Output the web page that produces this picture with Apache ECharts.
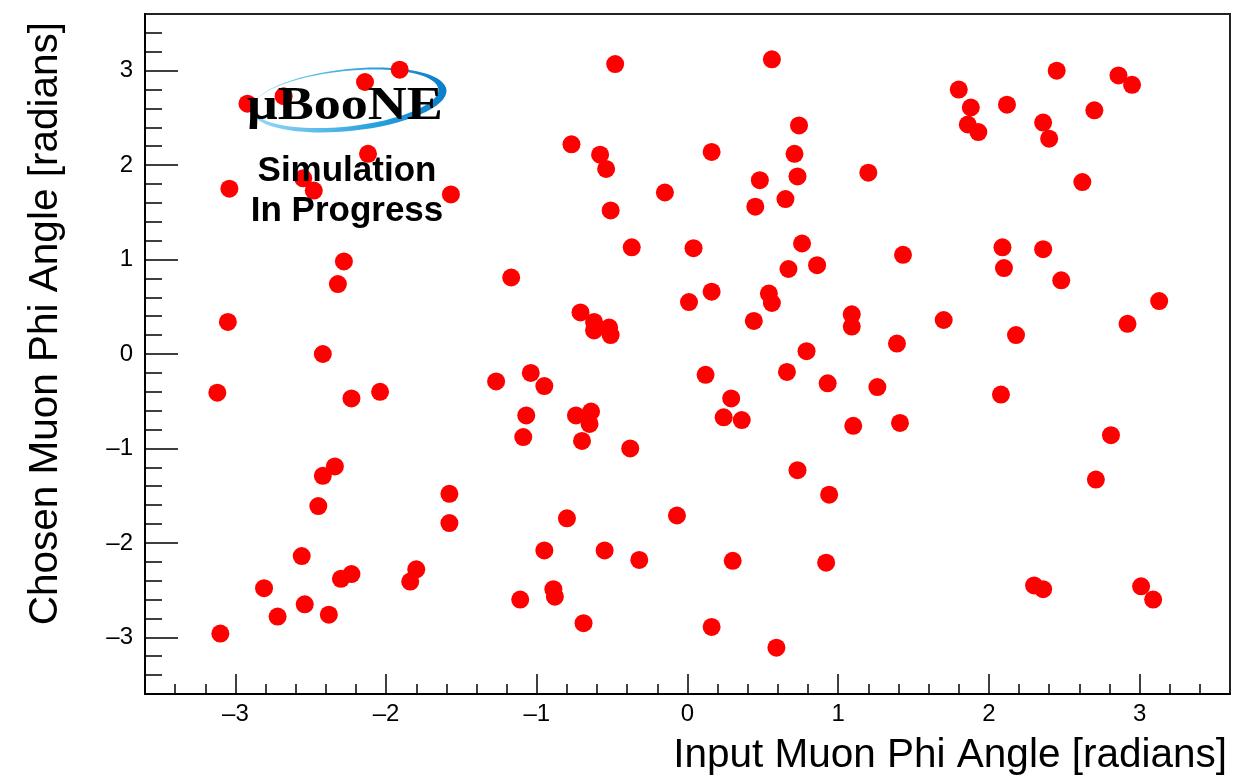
<!DOCTYPE html>
<html>
<head>
<meta charset="utf-8">
<title>Chosen vs Input Muon Phi</title>
<script src="https://cdn.jsdelivr.net/npm/echarts/dist/echarts.min.js"></script>
<style>
    html, body { margin: 0; padding: 0; background: #fff; }
    #main { width: 1257px; height: 778px; }
</style>
</head>
<body>
<div id="main"></div>
<script>
// input muon phi (x) and chosen muon phi (y), one entry per event
var inputPhi = [
    -2.92, -2.68, -2.14, -1.91, -2.12, -3.04, -2.55, -2.48, -1.57, -2.28, -2.32, -1.17, -3.05, -2.42,
    -0.48, 0.56, 1.80, 0.74, -0.77, -0.58, -0.54, 0.16, 0.71, 0.73, 0.48, 1.20, -0.15, 0.65, 0.45, -0.51,
    -0.37, 0.04, 0.76, 1.43, 0.67, 0.86, 0.16, 0.01, 0.54, 0.56, -0.71, -0.62, -0.62, -0.52, -0.51, 0.44,
    1.09, 1.09, 1.70, 1.39, 0.79,
    2.45, 2.86, 2.95, 1.88, 2.12, 1.86, 1.93, 2.36, 2.40, 2.70, 2.62, 2.09, 2.36, 2.10, 2.48, 2.18, 2.92, 3.13,
    -3.12, -2.23, -2.04, -1.27, -1.04, -0.95, -1.07, -1.09, -2.34, -2.42, -2.45, -1.58, -1.58, -0.95, -2.56,
    -2.30, -2.23, -2.81, -1.80, -1.84, -2.54, -2.72, -2.38, -1.11, -3.10, -0.89, -0.88, -0.80,
    0.12, 0.66, 0.93, 1.26, 0.29, 0.24, 0.36, 1.10, 1.41, -0.74, -0.64, -0.65, -0.70, -0.38, 0.73, 0.94, -0.07,
    -0.55, -0.32, 0.30, 0.92, -0.69, 0.16, 0.59,
    2.08, 2.81, 2.71, 2.30, 2.36, 3.01, 3.09
];
var chosenPhi = [
    2.65, 2.73, 2.88, 3.01, 2.12, 1.75, 1.86, 1.73, 1.69, 0.98, 0.74, 0.81, 0.34, 0.00,
    3.07, 3.12, 2.80, 2.42, 2.22, 2.11, 1.96, 2.14, 2.12, 1.88, 1.84, 1.92, 1.71, 1.64, 1.56, 1.52,
    1.13, 1.12, 1.17, 1.05, 0.90, 0.94, 0.66, 0.55, 0.64, 0.54, 0.44, 0.34, 0.25, 0.28, 0.20, 0.35,
    0.42, 0.29, 0.36, 0.11, 0.03,
    3.00, 2.95, 2.85, 2.61, 2.64, 2.43, 2.35, 2.45, 2.28, 2.58, 1.82, 1.13, 1.11, 0.91, 0.78, 0.20, 0.32, 0.56,
    -0.41, -0.47, -0.40, -0.29, -0.20, -0.34, -0.65, -0.88, -1.19, -1.29, -1.61, -1.48, -1.79, -2.08, -2.14,
    -2.38, -2.33, -2.48, -2.28, -2.41, -2.65, -2.78, -2.76, -2.60, -2.96, -2.49, -2.57, -1.74,
    -0.22, -0.19, -0.31, -0.35, -0.47, -0.67, -0.70, -0.76, -0.73, -0.65, -0.61, -0.74, -0.92, -1.00, -1.23, -1.49, -1.71,
    -2.08, -2.18, -2.19, -2.21, -2.85, -2.89, -3.11,
    -0.43, -0.86, -1.33, -2.45, -2.49, -2.46, -2.60
];

// axis ticks (ROOT style: long major, short minor)
var majorTicks = [-3, -2, -1, 0, 1, 2, 3];
var minorTicks = [-3.4, -3.2, -2.8, -2.6, -2.4, -2.2, -1.8, -1.6, -1.4, -1.2, -0.8, -0.6, -0.4, -0.2,
    0.2, 0.4, 0.6, 0.8, 1.2, 1.4, 1.6, 1.8, 2.2, 2.4, 2.6, 2.8, 3.2, 3.4];
var axisMin = -3.6, axisMax = 3.6;

var xTitle = 'Input Muon Phi Angle [radians]';
var yTitle = 'Chosen Muon Phi Angle [radians]';

var points = inputPhi.map(function (x, i) { return [x, chosenPhi[i]]; });

var FONT = 'Liberation Sans, Arial, Helvetica, sans-serif';

function tickLabel(v) {
    return String(v).replace('-', '\u2013');
}

function majorAxis(pos, len, margin) {
    return {
        type: 'value', position: pos, min: axisMin, max: axisMax,
        axisLine: { onZero: false, lineStyle: { color: '#000', width: 2 } },
        axisTick: { inside: true, length: len, customValues: majorTicks, lineStyle: { color: '#000', width: 1.5 } },
        axisLabel: { customValues: majorTicks, formatter: tickLabel, fontSize: 24, color: '#000', fontFamily: FONT, margin: margin },
        splitLine: { show: false }
    };
}
function minorAxis(pos, len) {
    return {
        type: 'value', position: pos, min: axisMin, max: axisMax,
        axisLine: { show: false, onZero: false },
        axisTick: { inside: true, length: len, customValues: minorTicks, lineStyle: { color: '#000', width: 1.5 } },
        axisLabel: { show: false },
        splitLine: { show: false }
    };
}

var myChart = echarts.init(document.getElementById('main'), null, { renderer: 'canvas' });
myChart.setOption({
    animation: false,
    backgroundColor: '#fff',
    grid: {
        left: 145, top: 14, right: 27, bottom: 84,
        show: true, borderColor: '#222', borderWidth: 2, backgroundColor: 'transparent'
    },
    xAxis: [majorAxis('bottom', 20, 8), minorAxis('bottom', 10)],
    yAxis: [majorAxis('left', 33, 12), minorAxis('left', 17)],
    graphic: [
        // uBooNE logo swoosh
        {
            type: 'group', x: 349, y: 100, rotation: 6 * Math.PI / 180, z: 0,
            children: [
                {
                    type: 'ellipse', shape: { cx: 0, cy: 0, rx: 98, ry: 31 },
                    style: {
                        fill: new echarts.graphic.LinearGradient(0, 0, 1, 0, [
                            { offset: 0, color: '#9bd8f5' },
                            { offset: 0.6, color: '#2aa3e0' },
                            { offset: 1, color: '#0a7fc8' }
                        ])
                    },
                    z: 0
                },
                {
                    type: 'ellipse', shape: { cx: -3.25, cy: -1.5, rx: 93.25, ry: 27.75 },
                    style: { fill: '#fff' }, z: 0
                }
            ]
        },
        {
            type: 'text', x: 345, y: 107, z: 10, scaleX: 1.15, originX: 0,
            style: {
                text: '\u03bcBooNE', fill: '#000', fontSize: 47, fontWeight: 'bold',
                fontFamily: 'Liberation Serif, Times New Roman, serif',
                textAlign: 'center', textVerticalAlign: 'middle'
            }
        },
        {
            type: 'text', x: 347, y: 171, z: 10,
            style: { text: 'Simulation', fill: '#000', fontSize: 35, fontWeight: 'bold', fontFamily: FONT, textAlign: 'center', textVerticalAlign: 'middle' }
        },
        {
            type: 'text', x: 347, y: 211, z: 10,
            style: { text: 'In Progress', fill: '#000', fontSize: 35, fontWeight: 'bold', fontFamily: FONT, textAlign: 'center', textVerticalAlign: 'middle' }
        },
        // axis titles, right aligned like ROOT
        {
            type: 'text', x: 1227, y: 756, z: 10,
            style: { text: xTitle, fill: '#000', fontSize: 40.5, fontFamily: FONT, textAlign: 'right', textVerticalAlign: 'middle' }
        },
        {
            type: 'text', x: 46, y: 22, z: 10, rotation: Math.PI / 2,
            style: { text: yTitle, fill: '#000', fontSize: 40.5, fontFamily: FONT, textAlign: 'right', textVerticalAlign: 'middle' }
        }
    ],
    series: [{
        type: 'scatter',
        xAxisIndex: 0,
        yAxisIndex: 0,
        symbol: 'circle',
        symbolSize: 18,
        itemStyle: { color: '#ff0000', opacity: 1 },
        z: 5,
        data: points
    }]
});
</script>
</body>
</html>
